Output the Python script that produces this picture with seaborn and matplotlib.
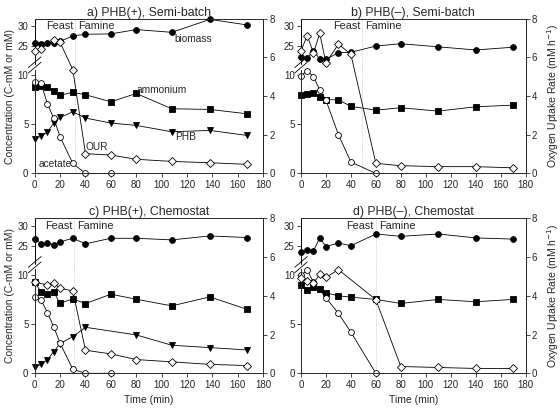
import matplotlib
matplotlib.use("Agg")
import matplotlib.pyplot as plt
import matplotlib.transforms as mtransforms
import seaborn as sns

# ---- data ----
# a) PHB(+), Semi-batch
t_a = [0, 5, 10, 15, 20, 30, 40, 60, 80, 108, 138, 167]
biomass_a = [25.8, 25.4, 25.7, 25.8, 26.2, 27.6, 28.0, 28.1, 29.2, 28.5, 31.8, 30.4]
ammonium_a = [8.84, 8.91, 8.78, 8.44, 7.99, 8.27, 8.03, 7.31, 8.16, 6.60, 6.53, 6.09]
phb_a = [3.47, 3.81, 4.22, 5.14, 5.71, 6.29, 5.65, 5.14, 4.90, 4.25, 4.39, 3.88]
t_acetate_a = [0, 5, 10, 15, 20, 30, 40, 60]
acetate_a = [9.32, 9.18, 7.11, 5.61, 3.74, 1.02, 0, 0]
t_our_a = [0, 5, 15, 20, 30, 40, 60, 80, 108, 138, 167]
our_a = [6.31, 6.43, 6.91, 6.77, 5.36, 1.02, 0.95, 0.73, 0.62, 0.55, 0.47]

# b) PHB(-), Semi-batch
t_b = [0, 5, 10, 15, 20, 30, 40, 60, 80, 110, 140, 170]
biomass_b = [22.3, 21.9, 23.8, 21.7, 21.6, 23.3, 23.4, 25.0, 25.6, 24.8, 24.0, 24.7]
ammonium_b = [8.03, 8.10, 8.23, 7.76, 7.52, 7.52, 6.84, 6.46, 6.70, 6.36, 6.80, 6.97]
t_acetate_b = [0, 5, 10, 15, 20, 30, 40, 60]
acetate_b = [9.97, 10.48, 9.86, 8.54, 7.48, 3.95, 1.16, 0]
our_b = [6.34, 7.12, 6.22, 7.24, 5.70, 6.69, 6.15, 0.52, 0.40, 0.35, 0.35, 0.29]

# c) PHB(+), Chemostat
t_c = [0, 5, 10, 15, 20, 30, 40, 60, 80, 108, 138, 167]
biomass_c = [26.8, 25.5, 25.7, 25.3, 26.0, 26.9, 25.5, 26.9, 26.9, 26.5, 27.5, 27.1]
ammonium_c = [9.32, 8.27, 8.10, 8.27, 7.14, 7.59, 7.11, 8.06, 7.55, 6.87, 7.79, 6.53]
t_phb_c = [0, 5, 10, 15, 20, 30, 40, 80, 108, 138, 167]
phb_c = [0.61, 0.92, 1.39, 2.21, 3.03, 3.74, 4.69, 3.91, 2.86, 2.62, 2.38]
t_acetate_c = [0, 5, 10, 15, 20, 30, 40, 60]
acetate_c = [7.79, 7.48, 6.19, 4.73, 3.06, 0.41, 0, 0]
t_our_c = [0, 10, 15, 20, 30, 40, 60, 80, 108, 138, 167]
our_c = [4.70, 4.56, 4.66, 4.39, 4.25, 1.19, 1.00, 0.71, 0.59, 0.46, 0.40]

# d) PHB(-), Chemostat
t_d = [0, 5, 10, 15, 20, 30, 40, 60, 80, 110, 140, 170]
biomass_d = [23.3, 23.9, 23.7, 27.0, 24.8, 25.7, 25.0, 28.0, 27.4, 28.0, 27.0, 26.7]
ammonium_d = [8.98, 8.47, 8.78, 8.61, 8.20, 7.90, 7.76, 7.53, 7.12, 7.53, 7.29, 7.53]
t_acetate_d = [0, 5, 10, 20, 30, 40, 60]
acetate_d = [10.0, 10.5, 9.3, 7.7, 6.1, 4.2, 0]
t_our_d = [0, 5, 10, 15, 20, 30, 60, 80, 110, 140, 170]
our_d = [4.9, 4.75, 4.65, 5.1, 4.95, 5.35, 3.8, 0.35, 0.30, 0.25, 0.25]

titles = ["a) PHB(+), Semi-batch", "b) PHB(\u2013), Semi-batch",
          "c) PHB(+), Chemostat", "d) PHB(\u2013), Chemostat"]
feast_end = [32, 49, 31, 60]

sns.set_style("ticks")
plt.rcParams["font.family"] = ["Liberation Sans", "DejaVu Sans"]
plt.rcParams["xtick.major.size"] = 3
plt.rcParams["ytick.major.size"] = 3
plt.rcParams["xtick.major.width"] = 0.6
plt.rcParams["ytick.major.width"] = 0.6
plt.rcParams["axes.linewidth"] = 0.7


def brk(v):
    # broken concentration axis: 0-10 linear, 20-32 compressed on top
    return [x if x <= 10.5 else 11 + (x - 20) * 0.4 for x in v]


TOP = 15.8


def series(ax, t, y, marker, filled, ms):
    sns.lineplot(x=t, y=y, ax=ax, color="black", lw=0.6, marker=marker,
                 markersize=ms, markerfacecolor="black" if filled else "white",
                 markeredgecolor="black", markeredgewidth=0.6, clip_on=False,
                 sort=False)


def panel(rect, k, t, biomass, ammonium, t_acet, acetate, t_our, our,
          t_phb=None, phb=None):
    ax = fig.add_axes(rect)
    ax2 = ax.twinx()
    series(ax, t, brk(biomass), "o", True, 4.2)
    series(ax, t, ammonium, "s", True, 3.8)
    if phb is not None:
        series(ax, t_phb, phb, "v", True, 4.4)
    series(ax, t_acet, acetate, "o", False, 4.2)
    series(ax2, t_our, our, "D", False, 3.6)

    ax.axvline(feast_end[k], color="#bbbbbb", lw=0.6, ls=":", zorder=0)
    ax.text(feast_end[k] - 1.5, 15.0, "Feast", ha="right", va="center", fontsize=7.8)
    ax.text(feast_end[k] + 2.5, 15.0, "Famine", ha="left", va="center", fontsize=7.8)

    ax.set_xlim(0, 180)
    ax.set_xticks(range(0, 181, 20))
    ax.set_ylim(0, TOP)
    ax.set_yticks([0, 5, 10, 13, 15])
    ax.set_yticklabels(["0", "5", "10", "25", "30"])
    ax2.set_ylim(0, 8)
    ax2.set_yticks([0, 2, 4, 6, 8])
    for a in (ax, ax2):
        a.tick_params(labelsize=7, pad=1.5)
        a.set_xlabel("")
        a.set_ylabel("")
    ax2.spines[["left", "top", "bottom"]].set_visible(False)

    # broken left spine
    ax.spines["left"].set_bounds(0, 10.6)
    ax.plot([0, 0], [11.15, TOP], color="black", lw=0.7, clip_on=False)
    tr = mtransforms.blended_transform_factory(ax.transAxes, ax.transData)
    for y0 in (10.25, 10.8):
        ax.plot([-0.028, 0.028], [y0, y0 + 1.1], color="black", lw=0.6,
                transform=tr, clip_on=False)

    ax.set_title(titles[k], fontsize=8.8, pad=2)
    return ax, ax2


fig = plt.figure(figsize=(5.6, 4.09), dpi=100)

axa, _ = panel([0.062, 0.576, 0.408, 0.3785], 0, t_a, biomass_a, ammonium_a,
               t_acetate_a, acetate_a, t_our_a, our_a, t_a, phb_a)
axb, axb2 = panel([0.5375, 0.576, 0.401, 0.3785], 1, t_b, biomass_b, ammonium_b,
                  t_acetate_b, acetate_b, t_b, our_b)
axc, _ = panel([0.062, 0.0873, 0.408, 0.379], 2, t_c, biomass_c, ammonium_c,
               t_acetate_c, acetate_c, t_our_c, our_c, t_phb_c, phb_c)
axd, axd2 = panel([0.5375, 0.0873, 0.401, 0.379], 3, t_d, biomass_d, ammonium_d,
                  t_acetate_d, acetate_d, t_our_d, our_d)

# series labels in panel a
axa.text(125, 13.7, "biomass", fontsize=7.3, ha="center", va="center")
axa.text(100, 8.5, "ammonium", fontsize=7.3, ha="center", va="center")
axa.text(119, 3.7, "PHB", fontsize=7.3, ha="center", va="center")
axa.text(49, 2.7, "OUR", fontsize=7.3, ha="center", va="center")
axa.text(16, 1.0, "acetate", fontsize=7.3, ha="center", va="center")

for ax in (axa, axc):
    ax.set_ylabel("Concentration (C-mM or mM)", fontsize=7.5, labelpad=2)
for ax in (axb2, axd2):
    ax.set_ylabel("Oxygen Uptake Rate (mM h$^{-1}$)", fontsize=7.5, labelpad=6)
for ax in (axc, axd):
    ax.set_xlabel("Time (min)", fontsize=7.5, labelpad=4)

fig.savefig("out.png", dpi=100)
